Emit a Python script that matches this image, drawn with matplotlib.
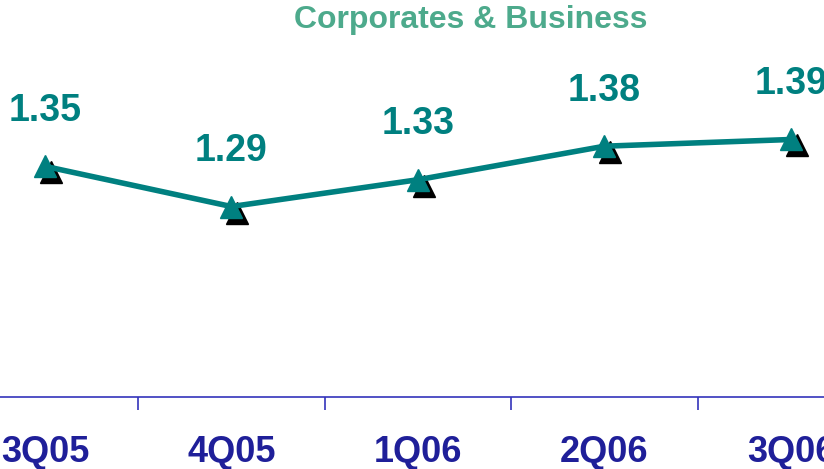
import matplotlib.pyplot as plt
import matplotlib.transforms as mtransforms
import numpy as np

# quarterly values
quarters = ['3Q05', '4Q05', '1Q06', '2Q06', '3Q06']
values = [1.35, 1.29, 1.33, 1.38, 1.39]

teal = '#008080'
navy = '#1F1F99'

plt.rcParams['font.family'] = ['Liberation Sans', 'DejaVu Sans']

fig = plt.figure(figsize=(8.24, 4.69), dpi=100)
ax = fig.add_axes([0, 0.1535, 1, 0.8465])

x = np.arange(len(quarters))

# black shadow under the markers
shadow = ax.transData + mtransforms.ScaledTranslation(6/100, -6/100, fig.dpi_scale_trans)
ax.plot(x, values, linestyle='none', marker='^', markersize=16,
        color='black', transform=shadow, zorder=2)

ax.plot(x, values, color=teal, linewidth=4, marker='^', markersize=16,
        markerfacecolor=teal, markeredgecolor=teal, zorder=3)

for xi, v in zip(x, values):
    ax.annotate(f'{v:.2f}', (xi, v), xytext=(0, 40), textcoords='offset points',
                ha='center', va='center', fontsize=27, fontweight='bold', color=teal)

ax.set_xlim(-0.241, 4.177)
ax.set_ylim(1.006, 1.598)

ax.set_xticks(x)
ax.set_xticklabels(quarters, fontsize=26, fontweight='bold', color=navy)
ax.tick_params(axis='x', which='major', length=0, pad=27)
ax.set_xticks(x[:-1] + 0.5, minor=True)
ax.tick_params(axis='x', which='minor', length=9, width=1.2, color='#3333BB', direction='out')
ax.set_yticks([])

for side in ['top', 'right', 'left']:
    ax.spines[side].set_visible(False)
ax.spines['bottom'].set_color('#3333BB')
ax.spines['bottom'].set_linewidth(1.2)

fig.text(0.5716, 0.958, 'Corporates & Business', ha='center', va='center',
         fontsize=23, fontweight='bold', color='#4DAA8C')

plt.savefig('out.png', dpi=100)
